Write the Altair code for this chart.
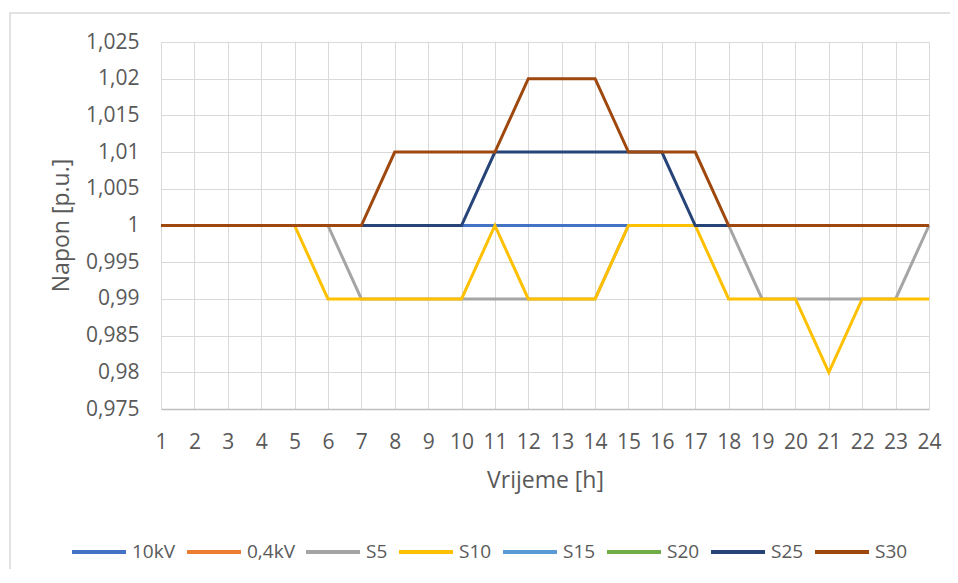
import altair as alt
import pandas as pd

hours = [1, 2, 3, 4, 5, 6, 7, 8, 9, 10, 11, 12, 13, 14, 15, 16, 17, 18, 19, 20, 21, 22, 23, 24]
y_ticks = [0.975, 0.98, 0.985, 0.99, 0.995, 1.0, 1.005, 1.01, 1.015, 1.02, 1.025]

series_names = ["10kV", "0,4kV", "S5", "S10", "S15", "S20", "S25", "S30"]
series_colors = ["#4472C4", "#ED7D31", "#A5A5A5", "#FFC000", "#5B9BD5", "#70AD47", "#264478", "#9E480E"]

v_10kV = [1, 1, 1, 1, 1, 1, 1, 1, 1, 1, 1, 1, 1, 1, 1, 1, 1, 1, 1, 1, 1, 1, 1, 1]
v_04kV = [None] * 24
v_S5 = [1, 1, 1, 1, 1, 1, 0.99, 0.99, 0.99, 0.99, 0.99, 0.99, 0.99, 0.99, 1, 1, 1, 1, 0.99, 0.99, 0.99, 0.99, 0.99, 1]
v_S10 = [1, 1, 1, 1, 1, 0.99, 0.99, 0.99, 0.99, 0.99, 1, 0.99, 0.99, 0.99, 1, 1, 1, 0.99, 0.99, 0.99, 0.98, 0.99, 0.99, 0.99]
v_S15 = [None] * 24
v_S20 = [None] * 24
v_S25 = [1, 1, 1, 1, 1, 1, 1, 1, 1, 1, 1.01, 1.01, 1.01, 1.01, 1.01, 1.01, 1, 1, 1, 1, 1, 1, 1, 1]
v_S30 = [1, 1, 1, 1, 1, 1, 1, 1.01, 1.01, 1.01, 1.01, 1.02, 1.02, 1.02, 1.01, 1.01, 1.01, 1, 1, 1, 1, 1, 1, 1]

all_values = [v_10kV, v_04kV, v_S5, v_S10, v_S15, v_S20, v_S25, v_S30]

rows = []
for order, (name, vals) in enumerate(zip(series_names, all_values)):
    for h, v in zip(hours, vals):
        if v is not None:
            rows.append({"h": h, "v": v, "s": name, "o": order})
df = pd.DataFrame(rows)

FONT = "Open Sans"
TXT = "#595959"

lines = alt.Chart(df).mark_line(strokeWidth=3, strokeJoin="miter", strokeCap="butt").encode(
    x=alt.X("h:Q",
            scale=alt.Scale(domain=[1, 24], nice=False, zero=False),
            axis=alt.Axis(values=hours, format="d", title="Vrijeme [h]",
                          grid=True, gridColor="#D9D9D9", gridWidth=1,
                          domainColor="#BFBFBF", domainWidth=1.5, ticks=False,
                          labelFont=FONT, labelFontSize=21, labelColor=TXT,
                          labelPadding=22, labelAngle=0, labelOverlap=False,
                          labelFlush=False,
                          titleFont=FONT, titleFontSize=23, titleColor=TXT,
                          titleFontWeight="normal",
                          titleX=384, titleY=71, titleBaseline="middle",
                          titleAnchor="middle", titleAlign="center")),
    y=alt.Y("v:Q",
            scale=alt.Scale(domain=[0.975, 1.025], nice=False, zero=False),
            axis=alt.Axis(values=y_ticks, title="Napon [p.u.]",
                          labelExpr="replace(format(datum.value, '.3~f'), '.', ',')",
                          grid=True, gridColor="#D9D9D9", gridWidth=1,
                          domain=False, ticks=False, labelOverlap=False,
                          labelFont=FONT, labelFontSize=21, labelColor=TXT,
                          labelPadding=22,
                          titleFont=FONT, titleFontSize=23, titleColor=TXT,
                          titleFontWeight="normal",
                          titleX=-100, titleY=183, titleBaseline="middle",
                          titleAlign="center", titleAngle=-90)),
    color=alt.Color("s:N",
                    scale=alt.Scale(domain=series_names, range=series_colors),
                    legend=alt.Legend(title=None, orient="none", direction="horizontal",
                                      columns=8, legendX=-91, legendY=481,
                                      symbolType="stroke", symbolSize=2916,
                                      symbolStrokeWidth=4, labelOffset=4,
                                      columnPadding=3, padding=0,
                                      labelFont=FONT, labelFontSize=19,
                                      labelColor=TXT)),
    order=alt.Order("o:Q"),
    detail="s:N",
)

frame_df = pd.DataFrame({"k": [0]})
frame = alt.Chart(frame_df).mark_rect(fill=None, stroke="#D9D9D9", strokeWidth=1.5).encode(
    x=alt.value(-151), x2=alt.value(820), y=alt.value(-29), y2=alt.value(600)
)

chart = alt.layer(frame, lines).properties(
    width=768, height=367,
    autosize=alt.AutoSizeParams(type="none"),
    padding={"left": 153, "top": 34, "right": 21, "bottom": 160},
    background="white",
).configure_view(stroke=None)

chart.save("out.html", embed_options={"renderer": "svg", "actions": False})
